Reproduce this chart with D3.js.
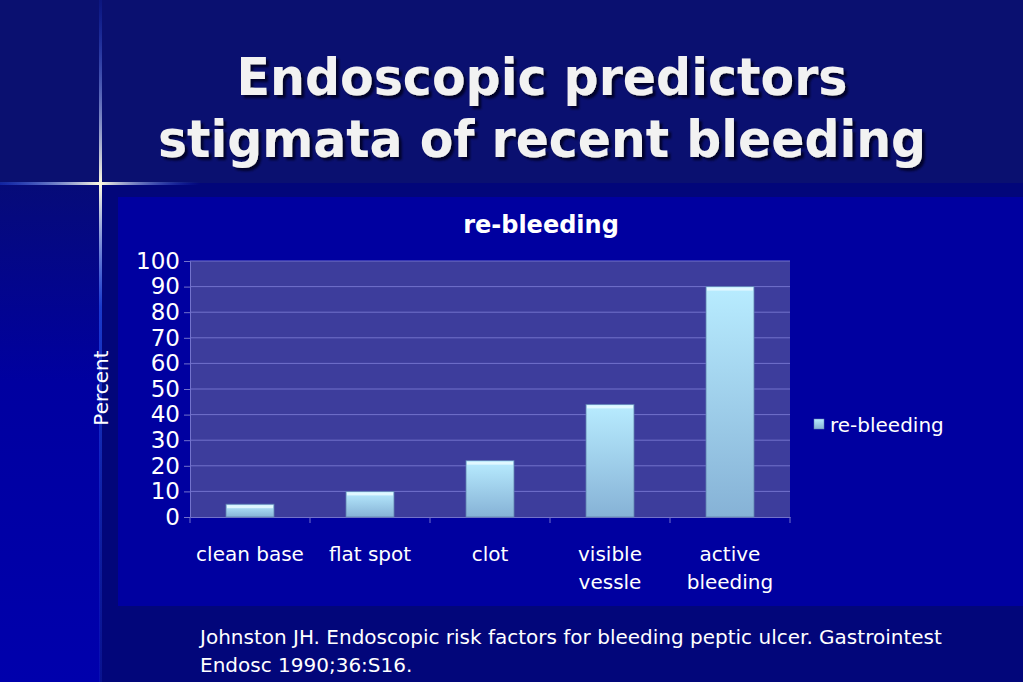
<!DOCTYPE html>
<html>
<head>
<meta charset="utf-8">
<title>Endoscopic predictors</title>
<script src="https://d3js.org/d3.v7.min.js"></script>
<style>
  body { margin: 0; background: #02067a; overflow: hidden; }
  svg { display: block; }
</style>
</head>
<body>
<div id="slide"></div>
<script>
// chart values
const categories = ["clean base", "flat spot", "clot", "visible vessle", "active bleeding"];
const labelLines = [["clean base"], ["flat spot"], ["clot"], ["visible", "vessle"], ["active", "bleeding"]];
const rebleeding = [5, 10, 22, 44, 90];
const yTicks = [0, 10, 20, 30, 40, 50, 60, 70, 80, 90, 100];
const seriesName = "re-bleeding";
const titleLines = ["Endoscopic predictors", "stigmata of recent bleeding"];
const footnote = ["Johnston JH. Endoscopic risk factors for bleeding peptic ulcer. Gastrointest",
                  "Endosc 1990;36:S16."];

const W = 1023, H = 682;
const font = "'DejaVu Sans', Verdana, sans-serif";

const svg = d3.select("#slide").append("svg")
    .attr("width", W).attr("height", H);

const defs = svg.append("defs");

// background gradients
const leftGrad = defs.append("linearGradient").attr("id", "leftGrad")
    .attr("x1", 0).attr("y1", 0).attr("x2", 0).attr("y2", 1);
leftGrad.append("stop").attr("offset", "0%").attr("stop-color", "#060b78");
leftGrad.append("stop").attr("offset", "40%").attr("stop-color", "#0000a0");
leftGrad.append("stop").attr("offset", "100%").attr("stop-color", "#0000ac");

const hLine = defs.append("linearGradient").attr("id", "hLine");
hLine.append("stop").attr("offset", "0%").attr("stop-color", "#2a5cff").attr("stop-opacity", 0.3);
hLine.append("stop").attr("offset", "50%").attr("stop-color", "#fffbe0");
hLine.append("stop").attr("offset", "100%").attr("stop-color", "#2a5cff").attr("stop-opacity", 0);

const vLine = defs.append("linearGradient").attr("id", "vLine")
    .attr("x1", 0).attr("y1", 0).attr("x2", 0).attr("y2", 1);
vLine.append("stop").attr("offset", "0%").attr("stop-color", "#1e4cff").attr("stop-opacity", 0.1);
vLine.append("stop").attr("offset", "27%").attr("stop-color", "#fffbe0");
vLine.append("stop").attr("offset", "45%").attr("stop-color", "#2a5cff").attr("stop-opacity", 0.6);
vLine.append("stop").attr("offset", "100%").attr("stop-color", "#1a2fc0").attr("stop-opacity", 0.3);

const barGrad = defs.append("linearGradient").attr("id", "barGrad")
    .attr("x1", 0).attr("y1", 0).attr("x2", 0).attr("y2", 1);
barGrad.append("stop").attr("offset", "0%").attr("stop-color", "#b8ecff");
barGrad.append("stop").attr("offset", "100%").attr("stop-color", "#86b2d6");

const shadow = defs.append("filter").attr("id", "shadow")
    .attr("x", "-10%").attr("y", "-10%").attr("width", "120%").attr("height", "130%");
shadow.append("feDropShadow").attr("dx", 3).attr("dy", 3).attr("stdDeviation", 1.2)
    .attr("flood-color", "#000022").attr("flood-opacity", 0.9);

// slide background
svg.append("rect").attr("width", W).attr("height", H).attr("fill", "#02067a");
svg.append("rect").attr("width", W).attr("height", 183).attr("fill", "#0a1070");
svg.append("rect").attr("x", 0).attr("y", 183).attr("width", 100).attr("height", H - 183)
    .attr("fill", "url(#leftGrad)");
svg.append("rect").attr("x", 0).attr("y", 182).attr("width", 200).attr("height", 3)
    .attr("fill", "url(#hLine)");
svg.append("rect").attr("x", 99).attr("y", 0).attr("width", 3).attr("height", H)
    .attr("fill", "url(#vLine)");

// title
svg.append("g").attr("filter", "url(#shadow)")
  .selectAll("text").data(titleLines).join("text")
    .attr("x", 542)
    .attr("y", (d, i) => 95 + i * 62)
    .attr("text-anchor", "middle")
    .attr("font-family", "Tahoma, 'DejaVu Sans', sans-serif")
    .attr("font-weight", "bold")
    .attr("font-size", 52)
    .attr("fill", "#f2f2f2")
    .attr("textLength", (d, i) => i === 0 ? 611 : 768)
    .attr("lengthAdjust", "spacingAndGlyphs")
    .text(d => d);

// chart area
svg.append("rect").attr("x", 118).attr("y", 197).attr("width", W - 118).attr("height", 409)
    .attr("fill", "#0000a0");

const plot = { left: 190, right: 790, top: 261, bottom: 517 };

const x = d3.scaleBand()
    .domain(categories)
    .range([plot.left, plot.right])
    .paddingInner(0.6)
    .paddingOuter(0.3);

const y = d3.scaleLinear()
    .domain([0, 100])
    .range([plot.bottom, plot.top]);

svg.append("rect")
    .attr("x", plot.left).attr("y", plot.top)
    .attr("width", plot.right - plot.left).attr("height", plot.bottom - plot.top)
    .attr("fill", "#3d3d9c");

// gridlines
svg.append("g")
  .selectAll("line").data(yTicks.slice(1)).join("line")
    .attr("x1", plot.left).attr("x2", plot.right)
    .attr("y1", d => y(d)).attr("y2", d => y(d))
    .attr("stroke", "#7272cc").attr("stroke-width", 1);

// y axis
const yAxis = svg.append("g")
    .attr("transform", `translate(${plot.left},0)`)
    .call(d3.axisLeft(y).tickValues(yTicks).tickSize(6).tickPadding(4));
yAxis.select(".domain").attr("stroke", "#7272cc");
yAxis.selectAll(".tick line").attr("stroke", "#7272cc");
yAxis.selectAll(".tick text")
    .attr("fill", "#ffffff").attr("font-size", 23).attr("font-family", font);

// x axis
const xAxis = svg.append("g")
    .attr("transform", `translate(0,${plot.bottom})`)
    .call(d3.axisBottom(x).tickSize(0).tickFormat(""));
xAxis.select(".domain").attr("stroke", "#7272cc");
svg.append("g")
  .selectAll("line").data(d3.range(categories.length + 1)).join("line")
    .attr("x1", i => plot.left + i * (plot.right - plot.left) / categories.length)
    .attr("x2", i => plot.left + i * (plot.right - plot.left) / categories.length)
    .attr("y1", plot.bottom).attr("y2", plot.bottom + 6)
    .attr("stroke", "#7272cc");

// x labels
const xl = svg.append("g");
categories.forEach((c, i) => {
  xl.append("text")
    .attr("x", x(c) + x.bandwidth() / 2)
    .attr("y", 561)
    .attr("text-anchor", "middle")
    .attr("font-family", font)
    .attr("font-size", 20)
    .attr("fill", "#ffffff")
    .selectAll("tspan").data(labelLines[i]).join("tspan")
      .attr("x", x(c) + x.bandwidth() / 2)
      .attr("dy", (d, j) => j === 0 ? 0 : 28)
      .text(d => d);
});

// bars
const bars = svg.append("g");
bars.selectAll("rect.bar").data(rebleeding).join("rect")
    .attr("class", "bar")
    .attr("x", (d, i) => x(categories[i]))
    .attr("y", d => y(d))
    .attr("width", x.bandwidth())
    .attr("height", d => y(0) - y(d))
    .attr("fill", "url(#barGrad)")
    .attr("stroke", "#5f7fb0").attr("stroke-width", 0.8);
// bevel highlight on top
bars.selectAll("rect.top").data(rebleeding).join("rect")
    .attr("class", "top")
    .attr("x", (d, i) => x(categories[i]) + 1)
    .attr("y", d => y(d) + 1)
    .attr("width", x.bandwidth() - 2)
    .attr("height", 3)
    .attr("fill", "#e8faff").attr("opacity", 0.85);

// chart title
svg.append("text")
    .attr("x", 541).attr("y", 233)
    .attr("text-anchor", "middle")
    .attr("font-family", font)
    .attr("font-weight", "bold")
    .attr("font-size", 24)
    .attr("fill", "#ffffff")
    .text(seriesName);

// y label
svg.append("text")
    .attr("transform", "translate(108,388) rotate(-90)")
    .attr("text-anchor", "middle")
    .attr("font-family", font)
    .attr("font-size", 20)
    .attr("fill", "#ffffff")
    .text("Percent");

// legend
svg.append("rect")
    .attr("x", 814).attr("y", 419).attr("width", 10).attr("height", 10)
    .attr("fill", "url(#barGrad)").attr("stroke", "#5f7fb0").attr("stroke-width", 0.5);
svg.append("text")
    .attr("x", 830).attr("y", 432)
    .attr("font-family", font)
    .attr("font-size", 20)
    .attr("fill", "#ffffff")
    .text(seriesName);

// footnote
svg.append("text")
    .attr("font-family", font)
    .attr("font-size", 20)
    .attr("fill", "#ffffff")
  .selectAll("tspan").data(footnote).join("tspan")
    .attr("x", 200)
    .attr("y", (d, i) => 644 + i * 28)
    .text(d => d);
</script>
</body>
</html>
